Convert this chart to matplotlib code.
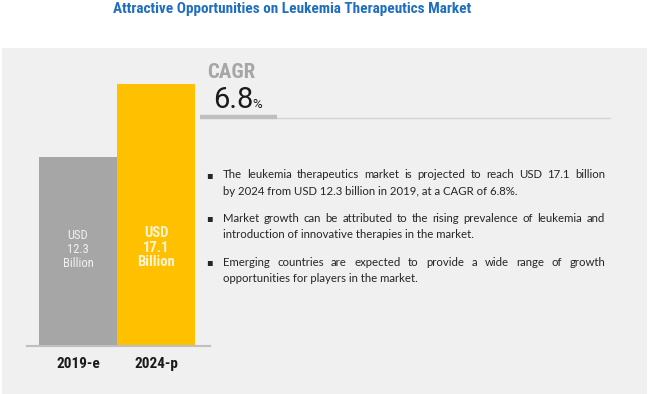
import matplotlib
matplotlib.use("Agg")
import matplotlib.pyplot as plt
from matplotlib import font_manager as fm
from matplotlib.patches import Rectangle
from matplotlib.font_manager import FontProperties

# ---- data ----
years = ["2019-e", "2024-p"]
values = [12.3, 17.1]
bar_labels = ["USD\n12.3\nBillion", "USD\n17.1\nBillion"]
bar_colors = ["#a6a6a6", "#ffc000"]
title = "Attractive Opportunities on Leukemia Therapeutics Market"
cagr_label = "CAGR"
cagr_value = "6.8"
bullets = [
    ["The leukemia therapeutics market is projected to reach USD 17.1 billion",
     "by 2024 from USD 12.3 billion in 2019, at a CAGR of 6.8%."],
    ["Market growth can be attributed to the rising prevalence of leukemia and",
     "introduction of innovative therapies in the market."],
    ["Emerging countries are expected to provide a wide range of growth",
     "opportunities for players in the market."],
]

names = {f.name for f in fm.fontManager.ttflist}
narrow = "Liberation Sans Narrow" if "Liberation Sans Narrow" in names else (
    "Roboto Condensed" if "Roboto Condensed" in names else "Roboto")
body = "Lato"

W, H = 650, 394
fig = plt.figure(figsize=(6.5, 3.94), dpi=100, facecolor="white")

def fx(px):
    return px / W

def fy(py):
    return 1 - py / H

# panel background
fig.patches.append(Rectangle((fx(2), 0), fx(645), 1 - 48 / H,
                             transform=fig.transFigure, facecolor="#f0f0f0",
                             edgecolor="none", zorder=-10))

# title
fig.text(fx(292), fy(9), title, ha="center", va="center", color="#1f6fbf",
         fontsize=11, fontweight="bold", family=narrow)

# bar axes
ax = fig.add_axes([fx(27), 48 / H, fx(183), 276 / H])
ax.set_zorder(1)
ax.patch.set_visible(False)
x = [0, 1]
ax.bar(x, values, width=1.0, color=bar_colors, zorder=2)
ax.set_xlim(-0.654, 1.692)
ax.set_ylim(0, 276 / 15.35)
for s in ["top", "left", "right"]:
    ax.spines[s].set_visible(False)
ax.spines["bottom"].set_color("#bfbfbf")
ax.spines["bottom"].set_linewidth(1.5)
ax.spines["bottom"].set_zorder(3)
ax.set_yticks([])
ax.set_xticks(x)
ax.set_xticklabels(years, fontsize=11, fontweight="bold", family=narrow,
                   color="#1a1a1a")
ax.tick_params(axis="x", length=0, pad=8)

ax.text(0, 6.3, bar_labels[0], ha="center", va="center", color="#f2f2f2",
        fontsize=9, family=narrow, linespacing=1.1, zorder=3)
ax.text(1, 6.4, bar_labels[1], ha="center", va="center", color="#fff5d6",
        fontsize=10.5, fontweight="bold", family=narrow, linespacing=1.05,
        zorder=3)

# CAGR block
fig.text(fx(207), fy(73), cagr_label, ha="left", va="center", color="#a6a6a6",
         fontsize=15, fontweight="bold", family=narrow)
fig.text(fx(213), fy(100), cagr_value, ha="left", va="center",
         color="#1a1a1a", fontsize=21, family="Roboto")
fig.text(fx(252), fy(104), "%", ha="left", va="center", color="#1a1a1a",
         fontsize=9.5, family="Roboto")
fig.lines.append(plt.Line2D([fx(277), fx(610)], [fy(118), fy(118)],
                            transform=fig.transFigure, color="#d4d4d4", lw=1))
fig.lines.append(plt.Line2D([fx(200), fx(277)], [fy(117), fy(117)],
                            transform=fig.transFigure, color="#bfbfbf", lw=3.2,
                            solid_capstyle="butt"))

# bullets
renderer = fig.canvas.get_renderer()
fp = FontProperties(family=body, size=8.2)

def width_px(s):
    w, h, d = renderer.get_text_width_height_descent(s, fp, ismath=False)
    return w

x0, x1 = 223, 605
line_y = [[175, 191], [218, 234], [262, 278]]
for lines, ys in zip(bullets, line_y):
    fig.text(fx(206), fy(ys[0]), "\u25aa", ha="left", va="center",
             color="#262626", fontsize=7, family="DejaVu Sans")
    words = lines[0].split()
    widths = [width_px(w) for w in words]
    gap = (x1 - x0 - sum(widths)) / (len(words) - 1)
    cx = x0
    for w, wd in zip(words, widths):
        fig.text(fx(cx), fy(ys[0]), w, ha="left", va="center",
                 color="#262626", fontproperties=fp)
        cx += wd + gap
    fig.text(fx(x0), fy(ys[1]), lines[1], ha="left", va="center",
             color="#262626", fontproperties=fp)

fig.savefig("out.png", dpi=100, facecolor="white")
